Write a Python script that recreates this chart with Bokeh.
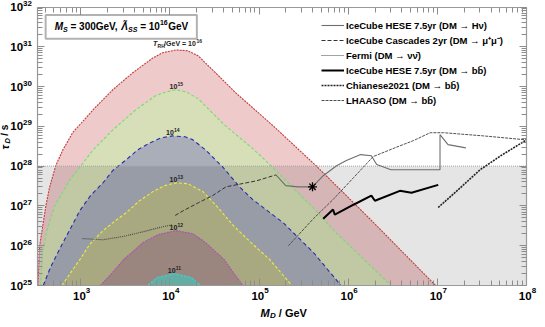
import numpy as np
from math import pi
from bokeh.plotting import figure
from bokeh.models import (Range1d, LogAxis, FixedTicker, CustomJSTickFormatter, Label,
                          BoxAnnotation, Legend, LegendItem)
from bokeh.embed import file_html
from bokeh.resources import INLINE

# ---------------- data (log10 values) ----------------
# T_RH regions: log10(M_D/GeV), log10(tau_D/s)
red_logM = [2.52, 2.54, 2.61, 2.65, 2.72, 2.80, 2.91, 3.14, 3.36, 3.58, 3.81, 3.92, 4.07, 4.20,
            4.32, 4.40, 4.57, 4.74, 5.16, 5.64, 6.25, 6.98]
red_logtau = [25.00, 26.00, 27.01, 27.46, 28.01, 28.41, 28.84, 29.42, 29.92, 30.34, 30.72, 30.85,
              30.92, 30.90, 30.77, 30.59, 30.22, 29.84, 29.01, 28.01, 26.66, 25.00]

green_logM = [2.55, 2.57, 2.63, 2.71, 2.88, 3.14, 3.36, 3.62, 3.84, 3.96, 4.07, 4.18, 4.32, 4.60,
              4.93, 5.12, 5.64, 5.83, 6.48]
green_logtau = [25.00, 25.83, 26.46, 27.01, 27.66, 28.41, 28.91, 29.42, 29.77, 29.87, 29.92, 29.87,
                29.69, 29.06, 28.44, 28.04, 26.88, 26.40, 25.00]

blue_logM = [2.58, 2.66, 2.76, 2.88, 2.99, 3.11, 3.25, 3.36, 3.51, 3.64, 3.78, 3.90, 4.03, 4.17,
             4.26, 4.40, 4.60, 4.79, 4.93, 5.27, 5.61, 5.92]
blue_logtau = [25.00, 25.45, 25.90, 26.41, 26.88, 27.26, 27.58, 27.89, 28.16, 28.41, 28.59, 28.71,
               28.76, 28.74, 28.66, 28.41, 27.96, 27.46, 27.16, 26.58, 25.83, 25.00]

yellow_logM = [2.79, 2.89, 2.99, 3.10, 3.25, 3.39, 3.51, 3.66, 3.81, 3.94, 4.07, 4.20, 4.37, 4.54,
               4.71, 4.91, 5.12, 5.37]
yellow_logtau = [25.00, 25.33, 25.65, 26.03, 26.38, 26.63, 26.83, 27.13, 27.36, 27.51, 27.58, 27.56,
                 27.36, 26.96, 26.51, 26.08, 25.65, 25.00]

purple_logM = [3.22, 3.36, 3.48, 3.70, 3.87, 4.07, 4.26, 4.40, 4.61, 4.71, 4.82]
purple_logtau = [25.00, 25.33, 25.65, 26.08, 26.28, 26.38, 26.30, 26.08, 25.65, 25.33, 25.00]

cyan_logM = [3.75, 3.86, 4.05, 4.24, 4.35]
cyan_logtau = [25.00, 25.20, 25.30, 25.20, 25.00]

trh_exponents = [16, 15, 14, 13, 12, 11]

# experimental constraints
hese_hnu_logM = [5.19, 5.30, 5.44, 5.60, 5.72, 5.87, 5.98, 6.14, 6.26, 6.32, 6.48, 7.03, 7.03, 7.12, 7.32]
hese_hnu_logtau = [27.78, 27.51, 27.48, 27.48, 27.76, 28.01, 28.14, 28.29, 28.26, 28.04, 27.91, 27.91,
                   28.79, 28.54, 28.46]
star_logM = [5.60]
star_logtau = [27.48]

cascades_logM = [4.06, 4.15, 4.32, 4.48, 4.63, 4.97, 5.19]
cascades_logtau = [26.76, 26.88, 27.08, 27.26, 27.48, 27.63, 27.78]

fermi_logM = [3.02, 3.25, 3.47, 3.70, 3.87, 4.03]
fermi_logtau = [26.18, 26.15, 26.23, 26.35, 26.45, 26.53]

hese_bb_logM = [5.72, 5.83, 5.85, 6.06, 6.26, 6.30, 6.58, 6.71, 7.01]
hese_bb_logtau = [26.68, 26.91, 26.78, 27.03, 27.26, 27.13, 27.38, 27.33, 27.53]

chianese_logM = [7.01, 7.26, 7.48, 7.71, 8.00]
chianese_logtau = [26.96, 27.46, 27.91, 28.26, 28.66]

lhaaso_logM = [5.33, 5.61, 5.83, 6.06, 6.28, 6.58, 6.73, 6.92, 7.07, 7.52, 8.00]
lhaaso_logtau = [26.00, 26.68, 27.16, 27.71, 28.24, 28.51, 28.64, 28.84, 28.84, 28.76, 28.66]

tau_bound_log = 28.0   # shaded excluded band below 1e28 s

legend_labels = [
    "IceCube HESE 7.5yr (DM \u2192 H\u03bd)",
    "IceCube Cascades 2yr (DM \u2192 \u03bc\u207a\u03bc\u207b)",
    "Fermi (DM \u2192 \u03bd\u03bd\u0304)",
    "IceCube HESE 7.5yr (DM \u2192 bb\u0304)",
    "Chianese2021 (DM \u2192 bb\u0304)",
    "LHAASO (DM \u2192 bb\u0304)",
]

x_major_exp = [3, 4, 5, 6, 7, 8]
y_major_exp = [25, 26, 27, 28, 29, 30, 31, 32]

# ---------------- figure ----------------
FONT = "Liberation Sans"
x_lo, x_hi = 10 ** 2.51, 1e8          # plot box (axes) limits
y_lo, y_hi = 1e25, 1e32
# the canvas-wide frame extends a little beyond the box so that tick labels / titles stay visible
p = figure(width=537, height=319, x_axis_type="log", y_axis_type="log",
           x_range=Range1d(10 ** 2.1006, 10 ** 8.1234), y_range=Range1d(10 ** 24.1455, 10 ** 32.1634),
           output_backend="svg", toolbar_location=None,
           min_border_left=0, min_border_right=0, min_border_top=0, min_border_bottom=0)
p.grid.visible = False
p.outline_line_color = None
p.background_fill_color = "white"
p.border_fill_color = "white"

x_minor = [m * 10.0 ** k for k in range(2, 8) for m in range(2, 10) if x_lo <= m * 10.0 ** k <= x_hi]
y_minor = [m * 10.0 ** k for k in range(25, 32) for m in range(2, 10)]
xt = FixedTicker(ticks=[10.0 ** e for e in x_major_exp], minor_ticks=x_minor)
yt = FixedTicker(ticks=[10.0 ** e for e in y_major_exp], minor_ticks=y_minor)

def style_axis(ax, ticker, loc, bounds):
    ax.ticker = ticker
    ax.formatter = CustomJSTickFormatter(code="return '';")
    ax.fixed_location = loc
    ax.bounds = bounds
    ax.axis_line_color = "#9a9a9a"
    ax.axis_line_width = 1.2
    ax.major_tick_line_color = "#8c8c8c"
    ax.minor_tick_line_color = "#8c8c8c"
    ax.major_tick_in = 7
    ax.major_tick_out = 0
    ax.minor_tick_in = 5
    ax.minor_tick_out = 0
    ax.major_label_standoff = 0
    ax.major_label_text_font_size = "0px"

style_axis(p.xaxis[0], xt, y_lo, (x_lo, x_hi))
style_axis(p.yaxis[0], yt, x_lo, (y_lo, y_hi))
top = LogAxis()
style_axis(top, xt, y_hi, (x_lo, x_hi))
p.add_layout(top, "above")
right = LogAxis()
style_axis(right, yt, x_hi, (y_lo, y_hi))
p.add_layout(right, "right")

def L(a):
    return 10.0 ** np.asarray(a, dtype=float)

# ---------------- T_RH regions ----------------
regions = [
    (red_logM, red_logtau, "#eecaca", "#c23b3b", "2 1"),
    (green_logM, green_logtau, "#d6dfb7", "#6fe06f", "3 2"),
    (blue_logM, blue_logtau, "#a9aeb9", "#2a2ab0", "4 3"),
    (yellow_logM, yellow_logtau, "#bdbd90", "#ecec3c", "3 2"),
    (purple_logM, purple_logtau, "#ac968e", "#b050b0", "2 1"),
    (cyan_logM, cyan_logtau, "#6fc2b7", "#40d0d0", "3 1"),
]
for lm, lt, fc, ec, dash in regions:
    p.patch(L(lm), L(lt), fill_color=fc, fill_alpha=1.0, line_alpha=0, level="underlay")

band = BoxAnnotation(left=x_lo, right=x_hi, bottom=y_lo, top=10 ** tau_bound_log, fill_color="black",
                     fill_alpha=0.1, line_alpha=0, level="underlay")
p.add_layout(band)

for lm, lt, fc, ec, dash in regions:
    p.line(L(lm), L(lt), line_color=ec, line_width=1.1, line_dash=dash)

p.segment(x0=[x_lo], y0=[10 ** tau_bound_log], x1=[x_hi], y1=[10 ** tau_bound_log],
          line_color="#a0a0a0", line_dash="1 1", line_width=1)

# ---------------- constraints ----------------
r1 = p.line(L(hese_hnu_logM), L(hese_hnu_logtau), line_color="#6e6e6e", line_width=1.1)
r2 = p.line(L(cascades_logM), L(cascades_logtau), line_color="#333333", line_width=1.0, line_dash="4 2")
r3 = p.line(L(fermi_logM), L(fermi_logtau), line_color="#444444", line_width=1.1, line_dash="1 1")
r4 = p.line(L(hese_bb_logM), L(hese_bb_logtau), line_color="black", line_width=2.0)
r5 = p.line(L(chianese_logM), L(chianese_logtau), line_color="#222222", line_width=1.6, line_dash="2 1")
r6 = p.line(L(lhaaso_logM), L(lhaaso_logtau), line_color="#505050", line_width=1.0, line_dash="3 1")
p.scatter(L(star_logM), L(star_logtau), marker="asterisk", size=9, line_color="black", line_width=1.3)

legend = Legend(items=[LegendItem(label=t, renderers=[r]) for t, r in zip(legend_labels, [r1, r2, r3, r4, r5, r6])],
                location=(321, 212), label_text_font=FONT, label_text_font_style="bold",
                label_text_font_size="9.5px", label_text_color="black",
                glyph_width=23, glyph_height=14, label_height=14, spacing=1, padding=0, margin=0,
                label_standoff=2, border_line_alpha=0, background_fill_alpha=0)
p.add_layout(legend)

# ---------------- text annotations ----------------
def lab(x, y, text, size, style="bold", dx=0, dy=0, align="left", baseline="middle", angle=0,
        color="black"):
    p.add_layout(Label(x=x, y=y, text=text, x_offset=dx, y_offset=dy, text_font=FONT,
                       text_font_size=f"{size}px", text_font_style=style, text_align=align,
                       text_baseline=baseline, angle=angle, text_color=color))

# tick labels "10" with raised exponent
W10, WD = 12.8, 4.45
for e in x_major_exp:
    n = len(str(e))
    x0 = -(W10 + WD * n) / 2 + 1
    lab(10.0 ** e, y_lo, "10", 11.5, dx=x0, dy=-10)
    lab(10.0 ** e, y_lo, str(e), 8, dx=x0 + W10, dy=-5)
for e in y_major_exp:
    n = len(str(e))
    lab(x_lo, 10.0 ** e, str(e), 8, dx=-5, dy=3.5, align="right")
    lab(x_lo, 10.0 ** e, "10", 11.5, dx=-5 - WD * n, dy=0, align="right")

# peak labels
for (lm, lt, *_), e in zip(regions, trh_exponents):
    i = int(np.argmax(lt))
    px, py = 10 ** lm[i], 10 ** lt[i]
    if e == 16:
        lab(px, py, "T", 7, "bold italic", dx=-23, dy=6, color="#222222")
        lab(px, py, "RH", 5, "bold", dx=-18.5, dy=4, color="#222222")
        lab(px, py, "/GeV = 10", 7, "bold", dx=-12, dy=6, color="#222222")
        lab(px, py, "16", 5, "bold", dx=20.5, dy=9, color="#222222")
    else:
        lab(px, py, "10", 7, "bold", dx=-6.5, dy=1, baseline="bottom", color="#222222")
        lab(px, py, str(e), 5, "bold", dx=1.4, dy=3.8, baseline="bottom", color="#222222")

# box with parameters
bx0, bx1, by0, by1 = 10 ** 2.607, 10 ** 4.303, 10 ** 31.20, 10 ** 31.80
p.add_layout(BoxAnnotation(left=bx0, right=bx1, bottom=by0, top=by1, fill_color="white",
                           fill_alpha=1, line_color="black", line_width=2))
ym = 10 ** 31.5
lab(bx0, ym, "M", 10, "bold italic", dx=9)
lab(bx0, ym, "S", 7, "bold italic", dx=17.3, dy=-3)
lab(bx0, ym, "= 300GeV,", 10, "bold", dx=24.8)
lab(bx0, ym, "\u039b\u0303", 10, "bold italic", dx=75.7)
lab(bx0, ym, "SS", 7, "bold italic", dx=82.4, dy=-3)
lab(bx0, ym, "= 10", 10, "bold", dx=94.5)
lab(bx0, ym, "16", 7, "bold", dx=114.3, dy=4)
lab(bx0, ym, "GeV", 10, "bold", dx=122.6)

# axis titles
tx, ty = 10 ** 5.0167, 10 ** 24.32
lab(tx, ty, "M", 11, "bold italic")
lab(tx, ty, "D", 8, "bold italic", dx=9.5, dy=-3)
lab(tx, ty, "/ GeV", 11, "bold", dx=18.3)

ax_, ay_ = 10 ** 2.1455, 10 ** 28.419
lab(ax_, ay_, "\u03c4", 11, "bold italic", angle=pi / 2)
lab(ax_, ay_, "D", 7.5, "bold italic", dx=3, dy=6, angle=pi / 2)
lab(ax_, ay_, "/ s", 10, "bold", dy=13.6, angle=pi / 2)

open("out.html", "w", encoding="utf-8").write(file_html(p, INLINE))
